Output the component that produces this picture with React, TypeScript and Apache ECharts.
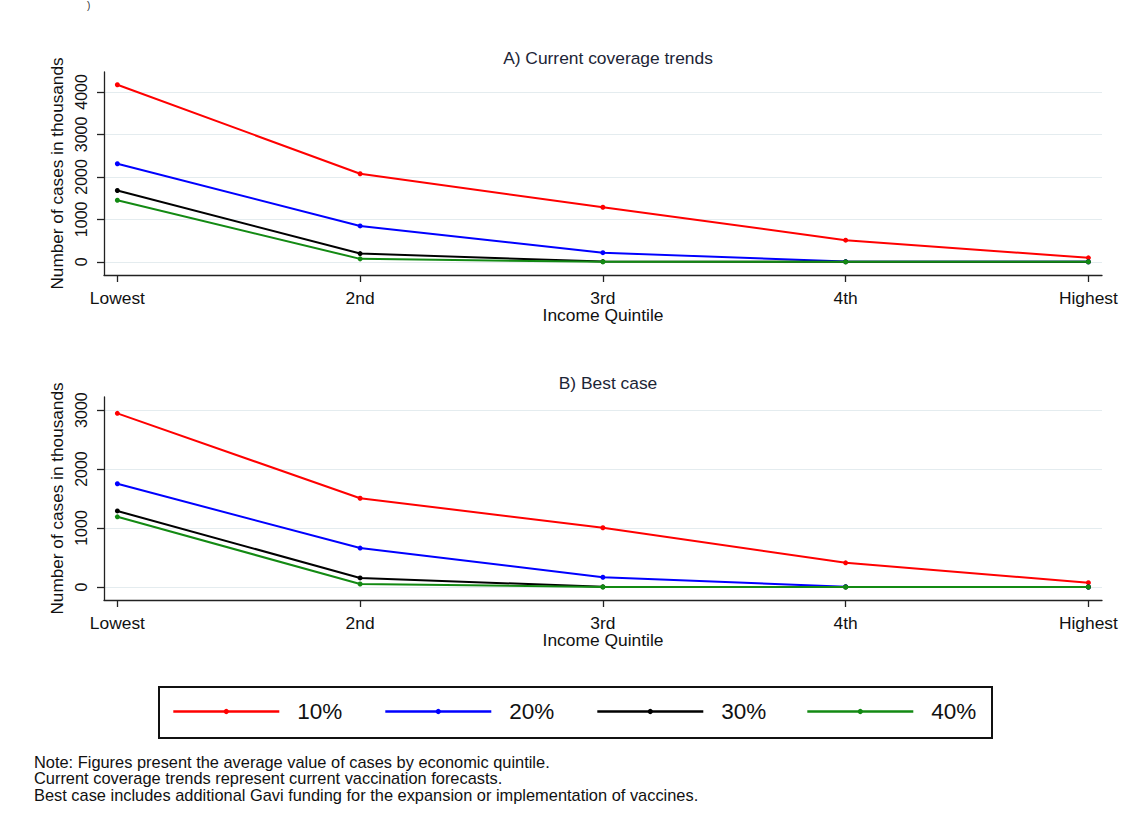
import React, { useEffect, useRef } from "react";
import * as echarts from "echarts";

const quintiles = ["Lowest", "2nd", "3rd", "4th", "Highest"];
const seriesNames = ["10%", "20%", "30%", "40%"];
const seriesColors = ["#ff0000", "#0000ff", "#000000", "#138a13"];

// A) Current coverage trends (thousands of cases)
const currentRed = [4170, 2075, 1285, 510, 95];
const currentBlue = [2310, 845, 215, 5, 0];
const currentBlack = [1680, 195, 5, 0, 0];
const currentGreen = [1450, 70, 0, 0, 0];

// B) Best case (thousands of cases)
const bestRed = [2945, 1505, 1005, 410, 73];
const bestBlue = [1750, 660, 165, 5, 0];
const bestBlack = [1290, 153, 3, 0, 0];
const bestGreen = [1190, 51, 0, 0, 0];

const currentTicks = [0, 1000, 2000, 3000, 4000];
const bestTicks = [0, 1000, 2000, 3000];

const titles = ["A) Current coverage trends", "B) Best case"];
const noteLines = [
  "Note: Figures present the average value of cases by economic quintile.",
  "Current coverage trends represent current vaccination forecasts.",
  "Best case includes additional Gavi funding for the expansion or implementation of vaccines.",
];

const FONT = "'Liberation Sans', Arial, sans-serif";

export default function App() {
  const ref = useRef<HTMLDivElement>(null);

  useEffect(() => {
    if (!ref.current) return;
    const chart = echarts.init(ref.current, undefined, { renderer: "svg" });

    const currentSets = [currentRed, currentBlue, currentBlack, currentGreen];
    const bestSets = [bestRed, bestBlue, bestBlack, bestGreen];
    const xIdx = quintiles.map((_, i) => i);

    const makeX = (gridIndex: number) => ({
      type: "value",
      gridIndex,
      min: -0.055,
      max: 4.056,
      name: "Income Quintile",
      nameLocation: "middle",
      nameGap: 31,
      nameTextStyle: { fontFamily: FONT, fontSize: 17.4, color: "#111" },
      axisLine: { show: true, onZero: false, lineStyle: { color: "#222", width: 1.3 } },
      axisTick: { show: true, length: 7, customValues: xIdx, lineStyle: { color: "#222", width: 1.3 } },
      axisLabel: {
        customValues: xIdx,
        margin: 14,
        fontFamily: FONT,
        fontSize: 17.4,
        color: "#111",
        formatter: (v: number) => quintiles[Math.round(v)] ?? "",
      },
      splitLine: { show: false },
    });

    const makeY = (gridIndex: number, min: number, max: number, ticks: number[]) => ({
      type: "value",
      gridIndex,
      min,
      max,
      name: "Number of cases in thousands",
      nameLocation: "middle",
      nameRotate: 90,
      nameGap: 30,
      nameTextStyle: { fontFamily: FONT, fontSize: 17.2, color: "#111" },
      axisLine: { show: true, onZero: false, lineStyle: { color: "#222", width: 1.3 } },
      axisTick: { show: true, length: 7, customValues: ticks, lineStyle: { color: "#222", width: 1.3 } },
      axisLabel: {
        customValues: ticks,
        rotate: 90,
        margin: 15,
        fontFamily: FONT,
        fontSize: 16,
        color: "#111",
        formatter: (v: number) => String(Math.round(v)),
      },
      splitLine: { show: true, lineStyle: { color: "#e4ecef", width: 1.2 } },
    });

    const series: any[] = [];
    [currentSets, bestSets].forEach((sets, g) => {
      sets.forEach((vals, k) => {
        series.push({
          type: "line",
          name: seriesNames[k],
          xAxisIndex: g,
          yAxisIndex: g,
          data: vals.map((v, i) => [i, v]),
          symbol: "circle",
          symbolSize: 5,
          showSymbol: true,
          color: seriesColors[k],
          lineStyle: { width: 2, color: seriesColors[k] },
          itemStyle: { color: seriesColors[k] },
          z: 2 + k,
        });
      });
    });

    const legendLefts = [172, 384, 596, 806];
    const legends = seriesNames.map((n, k) => ({
      data: [n],
      left: legendLefts[k],
      top: 700,
      itemWidth: 106,
      itemHeight: 6.5,
      itemGap: 0,
      padding: 0,
      selectedMode: false,
      textStyle: {
        fontFamily: FONT,
        fontSize: 22.5,
        color: "#111",
        padding: [0, 0, 0, 13],
      },
      lineStyle: { width: 2.6 },
    }));

    chart.setOption({
      animation: false,
      backgroundColor: "#ffffff",
      title: [
        {
          text: titles[0],
          left: 603,
          top: 44,
          textAlign: "center",
          textStyle: { fontFamily: FONT, fontSize: 17.4, fontWeight: "normal", color: "#1c2536" },
        },
        {
          text: titles[1],
          left: 603,
          top: 369,
          textAlign: "center",
          textStyle: { fontFamily: FONT, fontSize: 17.4, fontWeight: "normal", color: "#1c2536" },
        },
      ],
      grid: [
        { left: 104, top: 72, width: 998, height: 203, containLabel: false },
        { left: 104, top: 397, width: 998, height: 203, containLabel: false },
      ],
      xAxis: [makeX(0), makeX(1)],
      yAxis: [makeY(0, -310, 4470, currentTicks), makeY(1, -221, 3222, bestTicks)],
      legend: legends,
      series,
      graphic: [
        {
          type: "rect",
          shape: { x: 159, y: 687, width: 833, height: 51 },
          style: { fill: "none", stroke: "#111", lineWidth: 2 },
          silent: true,
        },
        {
          type: "text",
          x: 34,
          y: 753.5,
          style: {
            text: noteLines.join("\n"),
            fontFamily: FONT,
            fontSize: 16.4,
            lineHeight: 16.6,
            fill: "#111",
          },
        },
        {
          type: "text",
          x: 87,
          y: 0,
          style: { text: ")", fontFamily: FONT, fontSize: 10, fill: "#333" },
        },
      ],
    });

    return () => chart.dispose();
  }, []);

  return (
    <div
      ref={ref}
      style={{ position: "fixed", left: 0, top: 0, width: 1132, height: 823, background: "#fff" }}
    />
  );
}
